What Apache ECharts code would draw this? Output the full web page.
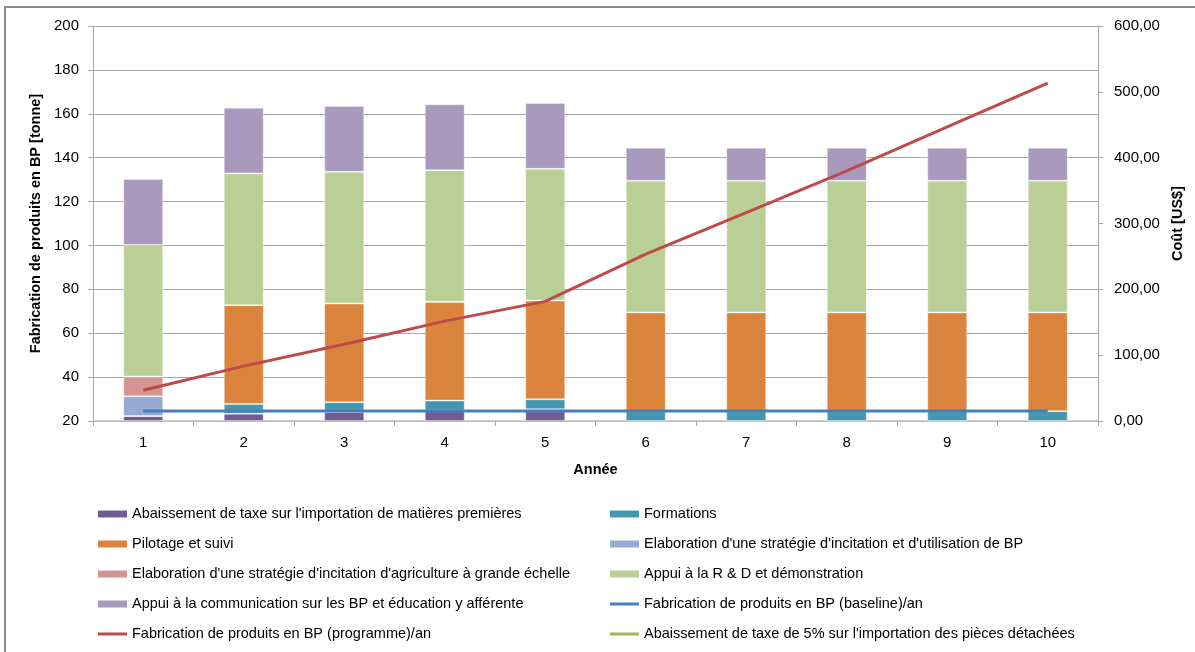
<!DOCTYPE html>
<html>
<head>
<meta charset="utf-8">
<script src="https://cdn.jsdelivr.net/npm/echarts@6/dist/echarts.min.js"></script>
<style>
  html, body { margin: 0; padding: 0; background: #ffffff; }
  #chart { width: 1195px; height: 652px; }
</style>
</head>
<body>
<div id="chart"></div>
<script>
// Années du programme
const annees = ['1', '2', '3', '4', '5', '6', '7', '8', '9', '10'];

// Coûts par activité [US$] (barres empilées, axe de droite)
const taxeMatieres   = [7.5, 11, 13.5, 16, 18, 0, 0, 0, 0, 0];
const formations     = [0, 15, 15, 15, 15, 15, 15, 15, 15, 15];
const pilotage       = [0, 150, 150, 150, 150, 150, 150, 150, 150, 150];
const strategieBP    = [30, 0, 0, 0, 0, 0, 0, 0, 0, 0];
const strategieAgri  = [30, 0, 0, 0, 0, 0, 0, 0, 0, 0];
const appuiRD        = [200, 200, 200, 200, 200, 200, 200, 200, 200, 200];
const communication  = [100, 100, 100, 100, 100, 50, 50, 50, 50, 50];

// Fabrication de produits en BP [tonne] (courbes, axe de gauche)
const fabricationBaseline  = [24.6, 24.6, 24.6, 24.6, 24.6, 24.6, 24.6, 24.6, 24.6, 24.6];
const fabricationProgramme = [34, 45, 55, 65.5, 74.5, 96, 115, 134, 154, 174];
const taxePieces           = [null, null, null, null, null, null, null, null, null, null];

// Graduations
const tonneTicks = { min: 20, max: 200, interval: 20 };
const coutTicks  = { min: 0, max: 600, interval: 100 };

const FONT = '"Liberation Sans", Arial, sans-serif';

// Icône de légende pour les courbes : trait horizontal centré dans la case
const ICONE_TRAIT = 'path://M0,0L29,0L29,0.01L0,0.01Z M0,2L29,2L29,5L0,5Z M0,6.99L29,6.99L29,7L0,7Z';

const noms = {
  taxeMatieres: "Abaissement de taxe sur l'importation de matières premières",
  formations: 'Formations',
  pilotage: 'Pilotage et suivi',
  strategieBP: "Elaboration d'une stratégie d'incitation et d'utilisation de BP",
  strategieAgri: "Elaboration d'une stratégie d'incitation d'agriculture à grande échelle",
  appuiRD: 'Appui à la R & D et démonstration',
  communication: 'Appui à la communication sur les BP et éducation y afférente',
  baseline: 'Fabrication de produits en BP (baseline)/an',
  programme: 'Fabrication de produits en BP (programme)/an',
  taxePieces: "Abaissement de taxe de 5% sur l'importation des pièces détachées"
};

function barre(nom, data, color) {
  return {
    name: nom, type: 'bar', stack: 'cout', yAxisIndex: 1,
    data: data, barWidth: 40,
    itemStyle: { color: color, borderColor: 'rgba(255,255,255,0.35)', borderWidth: 1 },
    emphasis: { disabled: true }
  };
}
function courbe(nom, data, color) {
  return {
    name: nom, type: 'line', yAxisIndex: 0, data: data,
    symbol: 'none', z: 5,
    lineStyle: { color: color, width: 3 },
    itemStyle: { color: color },
    emphasis: { disabled: true }
  };
}

const legendeCommune = {
  orient: 'vertical', itemWidth: 29, itemHeight: 7, itemGap: 14, padding: 0,
  selectedMode: false,
  itemStyle: { borderWidth: 0 },
  textStyle: { fontFamily: FONT, fontSize: 14.5, color: '#000', lineHeight: 16 }
};

const chart = echarts.init(document.getElementById('chart'), null, { renderer: 'canvas' });
chart.setOption({
  animation: false,
  backgroundColor: '#ffffff',
  graphic: [{
    type: 'rect', silent: true,
    shape: { x: 5, y: 7, width: 1400, height: 900 },
    style: { fill: 'none', stroke: '#8c8c8c', lineWidth: 2 }
  }],
  grid: { left: 93, right: 97, top: 26, bottom: 231 },
  legend: [
    Object.assign({}, legendeCommune, {
      left: 98, top: 506,
      data: [
        { name: noms.taxeMatieres, icon: 'rect' },
        { name: noms.pilotage, icon: 'rect' },
        { name: noms.strategieAgri, icon: 'rect' },
        { name: noms.communication, icon: 'rect' },
        { name: noms.programme, icon: ICONE_TRAIT }
      ]
    }),
    Object.assign({}, legendeCommune, {
      left: 610, top: 506,
      data: [
        { name: noms.formations, icon: 'rect' },
        { name: noms.strategieBP, icon: 'rect' },
        { name: noms.appuiRD, icon: 'rect' },
        { name: noms.baseline, icon: ICONE_TRAIT },
        { name: noms.taxePieces, icon: ICONE_TRAIT }
      ]
    })
  ],
  xAxis: {
    type: 'category', data: annees, boundaryGap: true,
    name: 'Année', nameLocation: 'middle', nameGap: 41,
    nameTextStyle: { fontFamily: FONT, fontSize: 14.5, fontWeight: 'bold', color: '#000' },
    axisLine: { lineStyle: { color: '#bfbfbf', width: 1.5 } },
    axisTick: { show: true, length: 5, lineStyle: { color: '#a6a6a6' } },
    axisLabel: { fontFamily: FONT, fontSize: 15, color: '#000', margin: 14 },
    splitLine: { show: false }
  },
  yAxis: [
    {
      type: 'value', position: 'left',
      min: tonneTicks.min, max: tonneTicks.max, interval: tonneTicks.interval,
      name: 'Fabrication de produits en BP [tonne]', nameLocation: 'middle', nameRotate: 90, nameGap: 44,
      nameTextStyle: { fontFamily: FONT, fontSize: 14.5, fontWeight: 'bold', color: '#000' },
      axisLine: { show: true, lineStyle: { color: '#a6a6a6' } },
      axisTick: { show: true, length: 5, lineStyle: { color: '#a6a6a6' } },
      axisLabel: { fontFamily: FONT, fontSize: 15, color: '#000', margin: 14 },
      splitLine: { show: true, lineStyle: { color: '#a8a8a8', width: 1 } }
    },
    {
      type: 'value', position: 'right',
      min: coutTicks.min, max: coutTicks.max, interval: coutTicks.interval,
      name: 'Coût [US$]', nameLocation: 'middle', nameRotate: 90, nameGap: 72,
      nameTextStyle: { fontFamily: FONT, fontSize: 14.5, fontWeight: 'bold', color: '#000' },
      axisLine: { show: true, lineStyle: { color: '#a6a6a6' } },
      axisTick: { show: true, length: 5, lineStyle: { color: '#a6a6a6' } },
      axisLabel: {
        fontFamily: FONT, fontSize: 15, color: '#000', margin: 16,
        formatter: v => v.toFixed(2).replace('.', ',')
      },
      splitLine: { show: false }
    }
  ],
  series: [
    barre(noms.taxeMatieres, taxeMatieres, '#735b92'),
    barre(noms.formations, formations, '#4398b0'),
    barre(noms.pilotage, pilotage, '#db843d'),
    barre(noms.strategieBP, strategieBP, '#95abd3'),
    barre(noms.strategieAgri, strategieAgri, '#d49592'),
    barre(noms.appuiRD, appuiRD, '#bacf96'),
    barre(noms.communication, communication, '#a99abd'),
    courbe(noms.baseline, fabricationBaseline, '#4a7ebb'),
    courbe(noms.programme, fabricationProgramme, '#be4b48'),
    courbe(noms.taxePieces, taxePieces, '#98b954')
  ]
});
</script>
</body>
</html>
